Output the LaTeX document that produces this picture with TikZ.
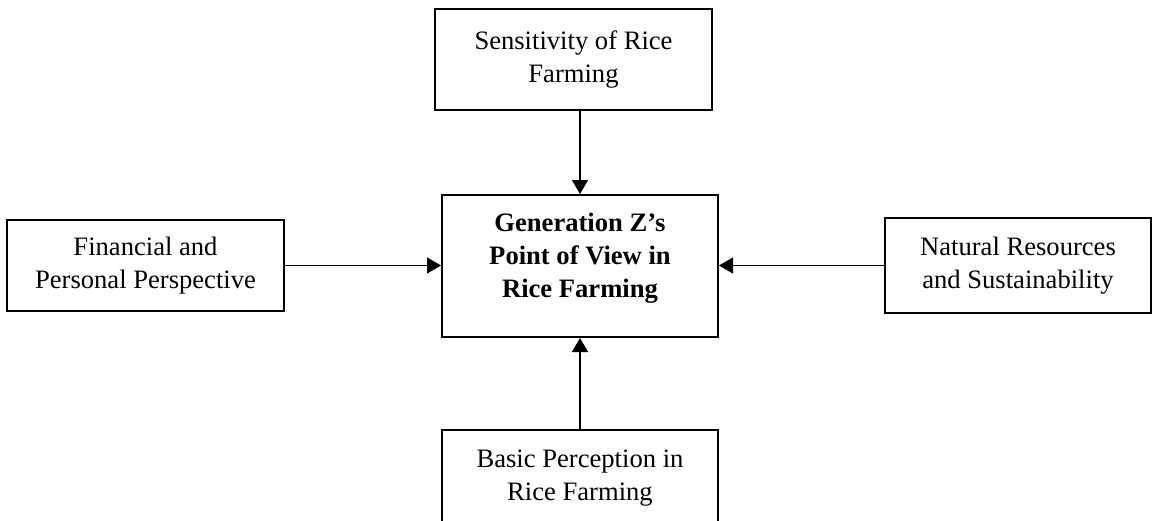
\documentclass[tikz,border=0pt]{standalone}
\usepackage{fontspec}
\setmainfont{Liberation Serif}
\usetikzlibrary{arrows.meta}
\begin{document}
\begin{tikzpicture}[x=1pt,y=-1pt,
  box/.style={draw=black, line width=2pt, rectangle, inner sep=0pt, align=center,
    font=\fontsize{26.6}{33}\selectfont},
  lbl/.style={align=center, inner sep=0pt, font=\fontsize{26.6}{33}\selectfont\bfseries},
  conn/.style={line width=1.2pt, -{Triangle[length=14pt,width=16pt]}}]
\useasboundingbox (0,0) rectangle (1152,520);
\node[box, minimum width=277pt, minimum height=101pt] (top) at (573.5,59.5) {Sensitivity of Rice\\Farming};
\node[box, minimum width=276pt, minimum height=142pt] (c) at (580,266) {};
\node[lbl] (ct) at (580,258) {Generation Z’s\\Point of View in\\Rice Farming};
\node[box, minimum width=277pt, minimum height=91pt] (l) at (145.5,265.5) {Financial and\\Personal Perspective};
\node[box, minimum width=266pt, minimum height=95pt] (r) at (1018,265.5) {Natural Resources\\and Sustainability};
\node[box, minimum width=276pt, minimum height=96pt] (b) at (580,478) {Basic Perception in\\Rice Farming};
\draw[conn] (c.north |- top.south) -- (c.north);
\draw[conn] (c.south |- b.north) -- (c.south);
\draw[conn] (l.east) -- (c.west |- l.east);
\draw[conn] (r.west) -- (c.east |- r.west);
\end{tikzpicture}
\end{document}
